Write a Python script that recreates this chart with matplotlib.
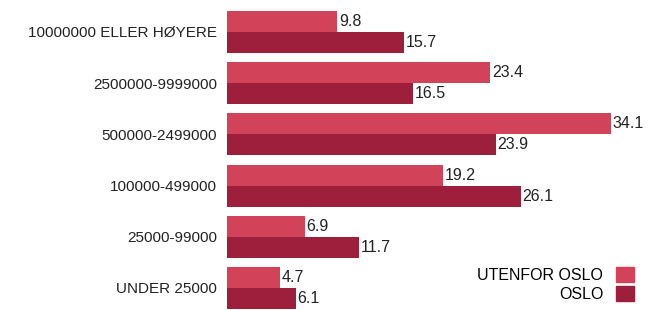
import matplotlib.pyplot as plt
import numpy as np
from matplotlib.patches import Patch

categories = ['10000000 ELLER HØYERE', '2500000-9999000', '500000-2499000',
              '100000-499000', '25000-99000', 'UNDER 25000']
utenfor_oslo = [9.8, 23.4, 34.1, 19.2, 6.9, 4.7]
oslo = [15.7, 16.5, 23.9, 26.1, 11.7, 6.1]
series_names = ['UTENFOR OSLO', 'OSLO']

col_light = '#d24258'
col_dark = '#9e1f3b'

plt.rcParams['font.family'] = ['Liberation Sans', 'DejaVu Sans']

fig = plt.figure(figsize=(6.48, 3.10), dpi=100)
ax = fig.add_axes([227 / 648, 0, 1 - 227 / 648, 1])

y = np.arange(len(categories))
h = 0.41
b1 = ax.barh(y - h / 2, utenfor_oslo, height=h, color=col_light)
b2 = ax.barh(y + h / 2, oslo, height=h, color=col_dark)

for bars, vals in ((b1, utenfor_oslo), (b2, oslo)):
    for bar, v in zip(bars, vals):
        ax.text(bar.get_width() + 0.15, bar.get_y() + bar.get_height() / 2,
                f'{v:.1f}', va='center', ha='left', fontsize=11.5, color='#222222')

ax.set_yticks(y)
ax.set_yticklabels(categories, fontsize=11, color='#222222')
ax.tick_params(axis='y', length=0, pad=7)
ax.set_xticks([])
ax.set_xlim(0, 37.4)
ax.set_ylim(5.43, -0.625)
for s in ax.spines.values():
    s.set_visible(False)

handles = [Patch(color=col_light), Patch(color=col_dark)]
ax.legend(handles, series_names, loc='lower right', markerfirst=False,
          frameon=False, fontsize=11.5, handlelength=1.1, handleheight=1.1,
          handletextpad=0.8, labelspacing=0.2, borderaxespad=0.1,
          bbox_to_anchor=(0.985, 0.0))

plt.savefig('out.png', dpi=100)
